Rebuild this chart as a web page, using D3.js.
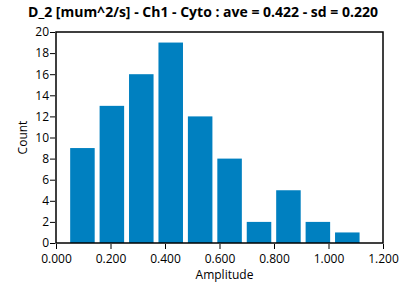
<!DOCTYPE html>
<html>
<head>
<meta charset="utf-8">
<script src="https://cdn.jsdelivr.net/npm/d3@7"></script>
<style>
  body { margin: 0; background: #fff; }
  text { font-family: "Open Sans", "DejaVu Sans", sans-serif; fill: #000; }
  .axis path, .axis line { stroke: #000; }
</style>
</head>
<body>
<div id="chart"></div>
<script>
var title = "D_2 [mum^2/s] - Ch1 - Cyto : ave = 0.422 - sd = 0.220";
var binCenters = [0.097, 0.205, 0.313, 0.421, 0.529, 0.637, 0.745, 0.853, 0.961, 1.069];
var counts = [9, 13, 16, 19, 12, 8, 2, 5, 2, 1];
var barWidth = 0.09; // in amplitude units
var xTicks = [0, 0.2, 0.4, 0.6, 0.8, 1.0, 1.2];
var yTicks = [0, 2, 4, 6, 8, 10, 12, 14, 16, 18, 20];

var width = 408;
var height = 287;
var padding = { top: 32, right: 25, bottom: 44, left: 56 };

var svg = d3.select('#chart')
    .append('svg')
    .attr('width', width)
    .attr('height', height);

var xScale = d3.scaleLinear()
    .domain([0, 1.2])
    .range([padding.left, width - padding.right]);
var yScale = d3.scaleLinear()
    .domain([0, 20])
    .range([height - padding.bottom, padding.top]);

// bars
svg.append('g')
    .selectAll('rect')
    .data(binCenters)
    .enter()
    .append('rect')
    .attr('x', function(d) { return xScale(d - barWidth / 2); })
    .attr('width', function(d) { return xScale(d + barWidth / 2) - xScale(d - barWidth / 2); })
    .attr('y', function(d, i) { return yScale(counts[i]); })
    .attr('height', function(d, i) { return yScale(0) - yScale(counts[i]); })
    .attr('fill', '#0080c0');

// frame
svg.append('rect')
    .attr('x', padding.left)
    .attr('y', padding.top)
    .attr('width', width - padding.left - padding.right)
    .attr('height', height - padding.top - padding.bottom)
    .attr('fill', 'none')
    .attr('stroke', '#000')
    .attr('stroke-width', 1.5);

var xAxis = d3.axisBottom(xScale)
    .tickValues(xTicks)
    .tickFormat(d3.format('.3f'))
    .tickSize(5)
    .tickSizeOuter(0);
var yAxis = d3.axisLeft(yScale)
    .tickValues(yTicks)
    .tickSize(5)
    .tickSizeOuter(0);

svg.append('g')
    .attr('class', 'axis')
    .attr('transform', 'translate(0,' + (height - padding.bottom + 1) + ')')
    .call(xAxis)
    .call(function(g) { g.select('.domain').remove(); })
    .selectAll('text')
    .style('font-size', '12px')
    .attr('dy', '0.9em');

svg.append('g')
    .attr('class', 'axis')
    .attr('transform', 'translate(' + (padding.left - 1) + ',0)')
    .call(yAxis)
    .call(function(g) { g.select('.domain').remove(); })
    .selectAll('text')
    .style('font-size', '12px')
    .attr('x', -6);

// title
svg.append('text')
    .attr('x', 203)
    .attr('y', 17)
    .style('text-anchor', 'middle')
    .style('font-size', '14px')
    .style('font-weight', 'bold')
    .text(title);

// axis labels
svg.append('text')
    .attr('x', (padding.left + width - padding.right) / 2 + 5)
    .attr('y', 279)
    .style('text-anchor', 'middle')
    .style('font-size', '12px')
    .text('Amplitude');

svg.append('text')
    .attr('transform', 'translate(27,' + ((padding.top + height - padding.bottom) / 2) + ') rotate(-90)')
    .style('text-anchor', 'middle')
    .style('font-size', '12px')
    .text('Count');
</script>
</body>
</html>
